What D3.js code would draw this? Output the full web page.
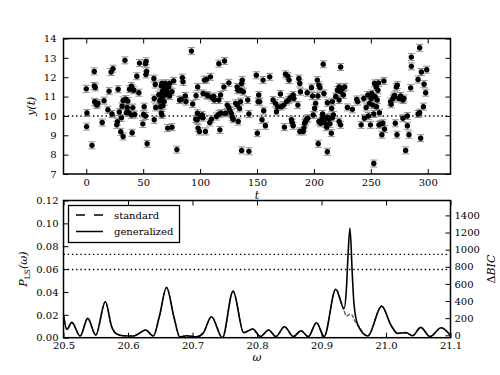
<!DOCTYPE html>
<html>
<head>
<meta charset="utf-8">
<script src="https://cdn.jsdelivr.net/npm/d3@7"></script>
<style>
  body { margin: 0; background: #fff; }
  svg { font-family: "DejaVu Serif", serif; }
</style>
</head>
<body>
<svg id="chart" width="500" height="375"></svg>
<script>
const tObs = [
  0.6,0.3,0,5,7,7,8,7.4,8.5,9.4,10.3,14,15.6,19,20,21.8,23.5,22.6,26.8,28,27.4,29,30.3,30.9,32.4,31.5,34,32.4,34.7,36.5,36,37.4,
  35.3,38,39.7,40.3,41.8,40.9,39.7,40.3,42.6,44.4,46.2,46.8,49.7,50.9,50.3,52,52.6,53,52.4,53.5,52,59.4,60.6,59.7,61,59.7,63.8,64.7,65.3,65.9,67,65.9,
  66.5,69.4,73.2,68,70.3,72.4,67.4,69.4,71.5,73.2,66.5,68.5,65,75.3,76.8,67.4,66.5,71.5,75.3,79.6,84.4,85,83.4,87,87.6,82,93.5,92.4,96.5,97.9,97.6,97.4,
  96.2,98.2,99.4,100.3,101.8,102.6,103.8,105.6,102.6,106.2,104.7,109.1,107,110.5,108.5,110,112,112.6,114.4,116.5,116.5,118,117.4,116.5,118.5,121.5,120.9,122.4,125.3,123.8,125.3,126.2,
  127.4,128.2,129.1,131.2,132.6,133.5,134.7,135.6,132.6,133.2,135.6,137.1,136.5,138,141.9,142.9,136.5,142.9,149.4,150.3,150.9,
  151.5,152.4,155.3,155.9,154.4,157.4,161.2,164.1,166.2,167.1,168.2,170.6,171.2,173.5,174.1,175,175.9,177.1,178.2,177.9,179.4,180.3,180.9,181.8,181.8,182.4,185.9,186.8,187.6,188.2,187.6,190.6,
  191.2,191.8,192.6,193.5,194.1,194.7,197.9,198.8,199.4,200.6,201.5,203,203.5,204.4,205.3,203.8,208.2,208.8,211.8,211.8,204.4,205.9,207.4,208.8,210.3,211.2,211.8,213.2,214.1,215.3,216.2,217.1,
  215.6,216.2,207.6,222.1,223.5,219.1,220.6,222.1,223.5,225,225.9,227.1,222.1,223.5,229.4,233.8,237.6,
  238.5,241.5,243.8,244.4,245.9,247.4,247.9,248.8,249.7,250.3,250.9,251.8,252.6,253.2,253.8,254.7,255,255.6,256.2,256.8,257.6,257.1,252.6,258.5,260.6,261.5,262.1,259.7,267.4,267.9,269.4,270.3,
  270.9,272.4,273.2,271.5,273,274.7,276.2,278.2,279.1,278.2,280.6,282.1,282.1,283.5,285,285.6,285.6,291.5,292.9,293.8,291.5,292.9,294.4,296.2,296.8,298.2,299.1
];
const yObs = [
  10.15,9.45,11.4,8.48,12.3,11.55,11.47,10.73,10.65,10.56,10.65,9.66,10.79,10.32,11.28,12.27,12.44,10.1,9.54,11.38,9.7,10.2,9.18,9.9,8.94,10.5,12.87,10.8,10.87,10.77,10.44,10.17,
  10.17,11.38,11.54,11.42,11.33,10.43,10.05,9.13,10.07,12.05,11.2,12.73,9.59,10.48,10.08,12.7,12.82,12.3,12.14,8.56,10,11.93,11.62,9.8,10.44,10.9,11.1,10.77,10.48,11.56,11.28,10.14,
  11.68,11.68,11.68,11.5,11.33,11.5,11.16,11.08,11.2,11.03,10.9,10.74,10.82,11.25,11.81,10.53,10.05,9.37,9.42,8.26,11.98,11.76,10.85,11.03,10.74,10.82,10.62,13.35,11.04,11.5,10.14,9.8,
  9.83,9.37,9.2,9.97,10.05,9.91,11.85,11.88,11.16,11.08,9.2,12.02,11.04,10.95,9.66,9.83,11,10.82,9.97,12.7,10.82,11.08,9.28,10.09,10.14,12.84,11.5,10.14,11.71,10.56,10.44,10.27,
  10.14,9.93,9.83,10.65,10.56,9.71,10.39,10.74,11.5,11.33,11.33,11.85,11.68,11.25,10.82,10.1,8.22,8.17,12.1,9.11,10.74,
  11.08,10.74,11.85,10.27,9.8,9.49,12.02,10.82,10.65,10.22,10.48,11.13,10.48,10.56,9.42,12.15,10.74,12.05,11.85,10.82,10.96,9.8,9.66,9.49,11.08,10.9,10.56,11.93,11.68,11.25,9.2,9.2,
  9.37,9.62,9.71,9.83,11.2,9.88,11.47,11.03,10.05,10.39,10.65,11.85,11.03,11.59,11.47,8.56,12.67,11.16,10.68,8.15,9.71,9.62,9.88,9.79,9.59,9.42,9.93,9.83,9.59,9.11,9.91,10.05,
  10.39,10.74,10.1,9.71,9.54,11,11.33,11.5,11.25,11.42,11.08,11.5,10.82,12.53,10.44,10.34,10.85,
  10.74,9.54,10.9,9.88,10.44,11.08,10,10.65,9.54,10.9,11.16,10.56,10.1,11.68,10.99,11.5,10.48,10.82,11.33,11.71,10.17,9.54,7.54,9.59,9.62,11.81,9.32,9.03,10.74,10.6,10.9,10.99,
  11.06,11.5,11.59,9.62,9.03,10.9,11.03,10.82,10.9,9.88,8.22,10,9.49,9.03,11.45,12.56,13.04,10.1,10.17,8.85,11.88,13.52,12.27,10.48,11.64,11.2,12.39
];
const yErr = 0.18;
const yMean = 10;

// periodograms
const omegaGrid = [20.500,20.5052,20.5129,20.5258,20.5376,20.550,20.5649,20.5747,20.5825,20.5928,20.6082,20.616,20.6273,20.6392,20.6485,20.6598,20.6711,20.6804,20.6907,20.7062,20.7165,20.7294,20.7464,20.7629,20.7794,20.7935,20.8051,20.818,20.8292,20.8426,20.8564,20.8682,20.8795,20.8923,20.9041,20.9221,20.9349,20.9385,20.941,20.9441,20.9477,20.9503,20.9564,20.9718,20.9933,21.0077,21.0179,21.0308,21.041,21.0538,21.0682,21.0856,21.100];
const pGeneralized = [0.0198,0.0073,0.0134,0.0015,0.0169,0.0023,0.0314,0.0096,0.0032,0.0017,0.0015,0.0033,0.0067,0.0015,0.0183,0.0439,0.0183,0.0006,0.0017,0.0008,0.0040,0.0183,0.0000,0.0407,0.0044,0.0076,0.0010,0.0067,0.0010,0.0096,0.0010,0.0061,0.0010,0.0131,0.0010,0.0424,0.0256,0.0415,0.0706,0.0959,0.0560,0.0300,0.0110,0.0015,0.0276,0.0110,0.0038,0.0044,0.0017,0.0090,0.0010,0.0087,0.0017];
const pStandard = [0.0198,0.0073,0.0134,0.0015,0.0169,0.0023,0.0314,0.0096,0.0032,0.0017,0.0015,0.0033,0.0067,0.0015,0.0183,0.0439,0.0183,0.0006,0.0017,0.0008,0.0040,0.0183,0.0000,0.0407,0.0044,0.0076,0.0010,0.0067,0.0010,0.0096,0.0010,0.0061,0.0010,0.0131,0.0010,0.0424,0.0235,0.0190,0.0195,0.0205,0.0198,0.0160,0.0110,0.0015,0.0276,0.0110,0.0038,0.0044,0.0017,0.0090,0.0010,0.0087,0.0017];
const sigLevels = [0.0596, 0.0729];

const tTicks = [0, 50, 100, 150, 200, 250, 300];
const yTicks = [7, 8, 9, 10, 11, 12, 13, 14];
const omegaTicks = [20.5, 20.6, 20.7, 20.8, 20.9, 21.0, 21.1];
const pTicks = [0, 0.02, 0.04, 0.06, 0.08, 0.10, 0.12];
const bicTicks = [0, 200, 400, 600, 800, 1000, 1200, 1400];
const legendLabels = ["standard", "generalized"];

const svg = d3.select("#chart");
const font = '"DejaVu Serif", serif';

// panel frames
const left = 63.5, right = 450.5;
const top1 = 38.5, bot1 = 174, top2 = 200.5, bot2 = 337.7;

const xT = d3.scaleLinear().domain([-20, 320]).range([left, right]);
const yY = d3.scaleLinear().domain([7, 14]).range([bot1, top1]);
const xW = d3.scaleLinear().domain([20.5, 21.1]).range([left, right]);
const yP = d3.scaleLinear().domain([0, 0.12]).range([bot2, top2]);
const yB = d3.scaleLinear().domain([-28, 1574]).range([bot2, top2]);

function styleAxis(g) {
    g.attr("font-family", font).attr("font-size", 10);
    g.select(".domain").remove();
    g.selectAll(".tick line").attr("stroke", "#000").attr("stroke-width", 1);
    g.selectAll(".tick text").attr("fill", "#000");
}

// ---- top panel: y(t) ----
const gTop = svg.append("g");

gTop.append("line")
    .attr("x1", left).attr("x2", right)
    .attr("y1", yY(yMean)).attr("y2", yY(yMean))
    .attr("stroke", "#000").attr("stroke-width", 1.4)
    .attr("stroke-dasharray", "1.4,2.8");

const pts = tObs.map((t, i) => ({ t, y: yObs[i] }));

const eb = gTop.append("g").attr("stroke", "#8c8c8c").attr("stroke-width", 1);
pts.forEach(d => {
    const cx = xT(d.t), ya = yY(d.y - yErr), yb = yY(d.y + yErr);
    eb.append("line").attr("x1", cx).attr("x2", cx).attr("y1", ya).attr("y2", yb);
    eb.append("line").attr("x1", cx - 3.5).attr("x2", cx + 3.5).attr("y1", ya).attr("y2", ya);
    eb.append("line").attr("x1", cx - 3.5).attr("x2", cx + 3.5).attr("y1", yb).attr("y2", yb);
});

gTop.selectAll(".pt")
    .data(pts)
    .enter().append("circle")
    .attr("class", "pt")
    .attr("cx", d => xT(d.t))
    .attr("cy", d => yY(d.y))
    .attr("r", 2.7)
    .attr("fill", "#000");

gTop.append("g").attr("transform", `translate(0,${bot1})`)
    .call(d3.axisBottom(xT).tickValues(tTicks).tickSizeInner(-5).tickSizeOuter(0).tickPadding(5).tickFormat(d3.format("d")))
    .call(styleAxis);
gTop.append("g").attr("transform", `translate(0,${top1})`)
    .call(d3.axisTop(xT).tickValues(tTicks).tickSizeInner(-5).tickSizeOuter(0).tickFormat(""))
    .call(styleAxis);
gTop.append("g").attr("transform", `translate(${left},0)`)
    .call(d3.axisLeft(yY).tickValues(yTicks).tickSizeInner(-5).tickSizeOuter(0).tickPadding(7).tickFormat(d3.format("d")))
    .call(styleAxis);
gTop.append("g").attr("transform", `translate(${right},0)`)
    .call(d3.axisRight(yY).tickValues(yTicks).tickSizeInner(-5).tickSizeOuter(0).tickFormat(""))
    .call(styleAxis);

gTop.append("rect")
    .attr("x", left).attr("y", top1)
    .attr("width", right - left).attr("height", bot1 - top1)
    .attr("fill", "none").attr("stroke", "#000").attr("stroke-width", 1.5);

gTop.append("text")
    .attr("x", (left + right) / 2).attr("y", 199)
    .attr("text-anchor", "middle")
    .attr("font-size", 11).attr("font-style", "italic")
    .text("t");

gTop.append("text")
    .attr("transform", `translate(35,${(top1 + bot1) / 2}) rotate(-90)`)
    .attr("text-anchor", "middle")
    .attr("font-size", 11).attr("font-style", "italic")
    .text("y(t)");

// ---- bottom panel: periodogram ----
const gBot = svg.append("g");

gBot.append("clipPath").attr("id", "clip2")
    .append("rect").attr("x", left).attr("y", top2)
    .attr("width", right - left).attr("height", bot2 - top2);

sigLevels.forEach(s => {
    gBot.append("line")
        .attr("x1", left).attr("x2", right)
        .attr("y1", yP(s)).attr("y2", yP(s))
        .attr("stroke", "#000").attr("stroke-width", 1.4)
        .attr("stroke-dasharray", "1.4,2.8");
});

const line = d3.line()
    .x(d => xW(d[0]))
    .y(d => yP(d[1]))
    .curve(d3.curveMonotoneX);

gBot.append("path")
    .datum(omegaGrid.map((w, i) => [w, pStandard[i]]))
    .attr("clip-path", "url(#clip2)")
    .attr("d", line)
    .attr("fill", "none").attr("stroke", "#666").attr("stroke-width", 1.5)
    .attr("stroke-dasharray", "4,1.5");

gBot.append("path")
    .datum(omegaGrid.map((w, i) => [w, pGeneralized[i]]))
    .attr("clip-path", "url(#clip2)")
    .attr("d", line)
    .attr("fill", "none").attr("stroke", "#000").attr("stroke-width", 1.6);

gBot.append("g").attr("transform", `translate(0,${bot2})`)
    .call(d3.axisBottom(xW).tickValues(omegaTicks).tickSizeInner(-5).tickSizeOuter(0).tickPadding(4).tickFormat(d3.format(".1f")))
    .call(styleAxis);
gBot.append("g").attr("transform", `translate(0,${top2})`)
    .call(d3.axisTop(xW).tickValues(omegaTicks).tickSizeInner(-5).tickSizeOuter(0).tickFormat(""))
    .call(styleAxis);
gBot.append("g").attr("transform", `translate(${left},0)`)
    .call(d3.axisLeft(yP).tickValues(pTicks).tickSizeInner(-5).tickSizeOuter(0).tickPadding(5).tickFormat(d3.format(".2f")))
    .call(styleAxis);
gBot.append("g").attr("transform", `translate(${right},0)`)
    .call(d3.axisRight(yB).tickValues(bicTicks).tickSizeInner(-5).tickSizeOuter(0).tickPadding(4).tickFormat(d3.format("d")))
    .call(styleAxis);

gBot.append("rect")
    .attr("x", left).attr("y", top2)
    .attr("width", right - left).attr("height", bot2 - top2)
    .attr("fill", "none").attr("stroke", "#000").attr("stroke-width", 1.5);

// legend
const lg = gBot.append("g");
lg.append("rect")
    .attr("x", 68.5).attr("y", 205.5).attr("width", 111).attr("height", 37)
    .attr("fill", "#fff").attr("stroke", "#000").attr("stroke-width", 1.3);
legendLabels.forEach((lab, i) => {
    const yy = 215 + i * 16.5;
    lg.append("line")
        .attr("x1", 76).attr("x2", 103).attr("y1", yy).attr("y2", yy)
        .attr("stroke", "#000").attr("stroke-width", 1.5)
        .attr("stroke-dasharray", i === 0 ? "9,9" : null);
    lg.append("text")
        .attr("x", 114).attr("y", yy + 3.5)
        .attr("font-size", 10)
        .text(lab);
});

// axis labels
gBot.append("text")
    .attr("x", (left + right) / 2).attr("y", 361)
    .attr("text-anchor", "middle")
    .attr("font-size", 11).attr("font-style", "italic")
    .text("ω");

const pl = gBot.append("text")
    .attr("transform", `translate(27,${(top2 + bot2) / 2}) rotate(-90)`)
    .attr("text-anchor", "middle")
    .attr("font-size", 11);
pl.append("tspan").attr("font-style", "italic").text("P");
pl.append("tspan").attr("font-size", 7.5).attr("dy", 2.5).text("LS");
pl.append("tspan").attr("dy", -2.5).attr("font-style", "italic").text("(ω)");

const bl = gBot.append("text")
    .attr("transform", `translate(495,${(top2 + bot2) / 2}) rotate(-90)`)
    .attr("text-anchor", "middle")
    .attr("font-size", 11);
bl.append("tspan").text("Δ");
bl.append("tspan").attr("font-style", "italic").text("BIC");
</script>
</body>
</html>
